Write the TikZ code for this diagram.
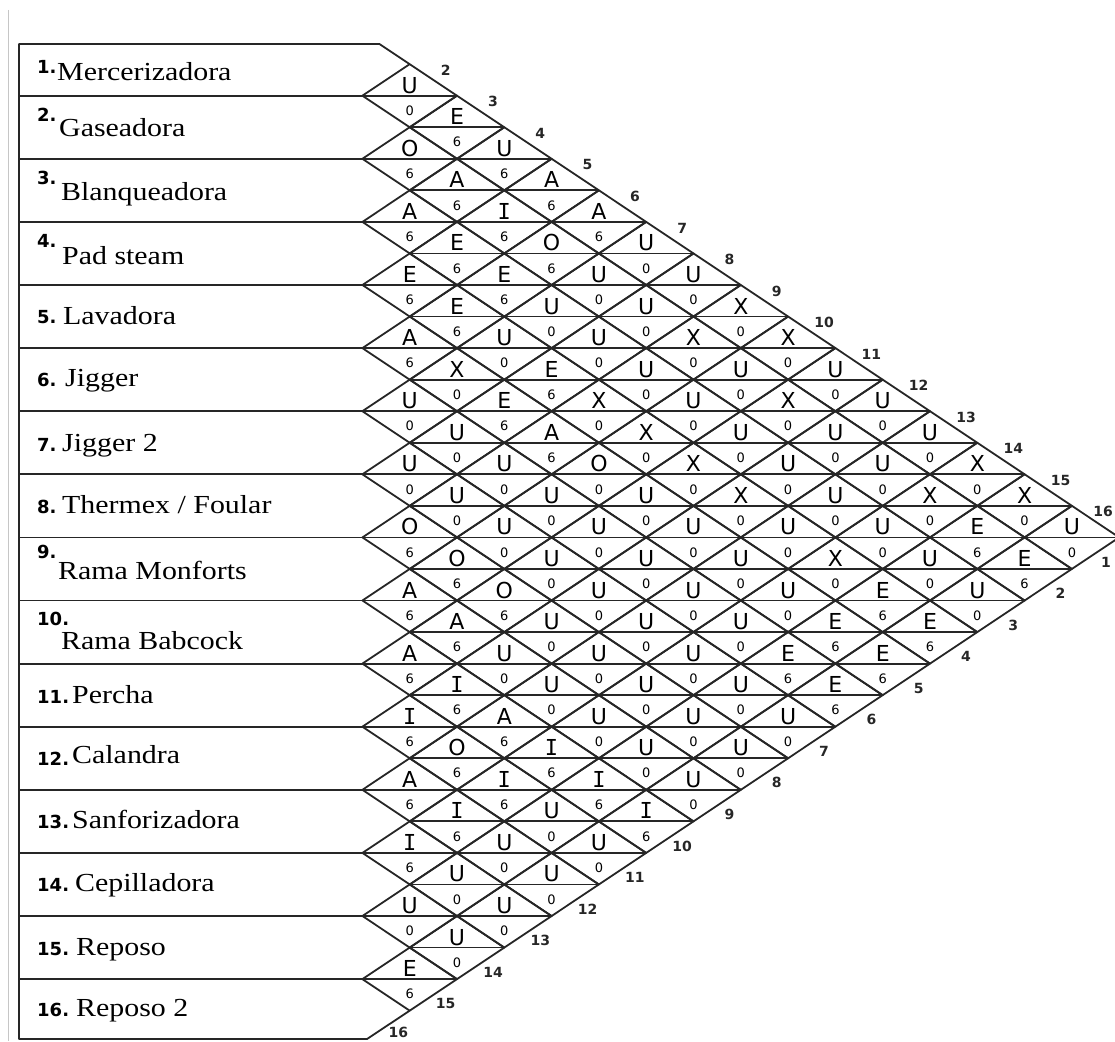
\documentclass[tikz,border=0pt]{standalone}
\usepackage{fontspec}
\usepackage{tikz}
\newfontfamily\namefont[FakeStretch=1.15]{Liberation Serif}
\newfontfamily\relfont{DejaVu Sans}
\newfontfamily\ifont{DejaVu Sans Mono}
% the letter I is printed with bars, as in the chart
\newcommand{\rel}[1]{\expandafter\ifx#1I{\ifont I}\else#1\fi}

\begin{document}
\begin{tikzpicture}[x=1pt,y=-1pt,line join=round,
    grid/.style={draw=black!85,line width=1.8pt},
    relletter/.style={anchor=base,inner sep=0pt,font=\relfont\fontsize{22}{22}\selectfont},
    relvalue/.style={inner sep=0pt,font=\relfont\fontsize{13}{13}\selectfont},
    edgeno/.style={inner sep=0pt,text=black!85,font=\relfont\bfseries\fontsize{14}{14}\selectfont},
    deptno/.style={anchor=base west,inner sep=0pt,font=\relfont\bfseries\fontsize{18}{18}\selectfont},
    deptname/.style={anchor=base west,inner sep=0pt,font=\namefont\fontsize{26}{26}\selectfont}]
  \clip (0,0) rectangle (1115,1041);
  \def\xl{362.4} \def\yt{32.6} \def\w{47.3} \def\h{31.55}

  % relationship diamonds, row by row (letter / value)
  \foreach \i/\vals in {
      1/{U/0,E/6,U/6,A/6,A/6,U/0,U/0,X/0,X/0,U/0,U/0,U/0,X/0,X/0,U/0},
      2/{O/6,A/6,I/6,O/6,U/0,U/0,X/0,U/0,X/0,U/0,U/0,X/0,E/6,E/6},
      3/{A/6,E/6,E/6,U/0,U/0,U/0,U/0,U/0,U/0,U/0,U/0,U/0,U/0},
      4/{E/6,E/6,U/0,E/6,X/0,X/0,X/0,X/0,U/0,X/0,E/6,E/6},
      5/{A/6,X/0,E/6,A/6,O/0,U/0,U/0,U/0,U/0,E/6,E/6},
      6/{U/0,U/0,U/0,U/0,U/0,U/0,U/0,U/0,E/6,E/6},
      7/{U/0,U/0,U/0,U/0,U/0,U/0,U/0,U/0,U/0},
      8/{O/6,O/6,O/6,U/0,U/0,U/0,U/0,U/0},
      9/{A/6,A/6,U/0,U/0,U/0,U/0,U/0},
      10/{A/6,I/6,A/6,I/6,I/6,I/6},
      11/{I/6,O/6,I/6,U/0,U/0},
      12/{A/6,I/6,U/0,U/0},
      13/{I/6,U/0,U/0},
      14/{U/0,U/0},
      15/{E/6}}
    \foreach \lett/\val [count=\k] in \vals {
      \pgfmathsetmacro\j{int(\i+\k)}
      \coordinate (d\i-\j) at ({\xl+\w*\k},{\yt+\h*(2*\i+\k-1)});
      \draw[grid] (d\i-\j) ++(-\w,0) -- ++(\w,-\h) -- ++(\w,\h) -- ++(-\w,\h) -- cycle;
      \draw[grid] (d\i-\j) ++(-\w,0) -- ++(2*\w,0);
      \node[relletter,yshift=2.5pt] (r\i-\j) at (d\i-\j) {\rel\lett};
      \node[relvalue,yshift=-15pt] (s\i-\j) at (d\i-\j) {\val};
    }

  % list frame
  \draw[gray!45,line width=1pt] (8,10) -- (8,1041);
  \draw[grid] (d1-2) ++(0,-\h) -- (379.4,44) -- (19,44) -- (19,1039) -- (367,1039)
    -- ([shift={(0,\h)}]d15-16);
  \foreach \k in {1,...,15}
    \draw[grid] (19,{\yt+2*\h*\k}) -- (\xl,{\yt+2*\h*\k});

  % column and row numbers on the outer edges
  \foreach \j in {2,...,16}
    \node[edgeno] (top\j) at ({min(\xl+\w*(\j-1)+36,1103)},{\yt+\h*(\j-1)+6}) {\j};
  \foreach \i in {1,...,16}
    \node[edgeno] (bot\i) at ({min(\xl+\w*(16-\i)+36,1106)},{min(\yt+\h*(\i+16)-7,1032)}) {\i};

  % departments
  \foreach \i/\py/\tx/\ty/\name in {
      1/73/57/80.7/Mercerizadora,
      2/121/59/136/Gaseadora,
      3/184/61/200.7/Blanqueadora,
      4/247/62/264/{Pad steam},
      5/323/63/324/Lavadora,
      6/386.7/65/386.7/Jigger,
      7/451/62/451/{Jigger 2},
      8/513/62/513/{Thermex / Foular},
      9/558/58/579.3/{Rama Monforts},
      10/625/61/649.3/{Rama Babcock},
      11/703/72/703/Percha,
      12/765/72/763/Calandra,
      13/828.3/72/828.3/Sanforizadora,
      14/891.7/75/891.7/Cepilladora,
      15/955/76/955/Reposo,
      16/1016.7/76/1016.7/{Reposo 2}} {
    \node[deptno] (p\i) at (37,\py) {\i.};
    \node[deptname] (n\i) at (\tx,\ty) {\name};
  }
\end{tikzpicture}
\end{document}
